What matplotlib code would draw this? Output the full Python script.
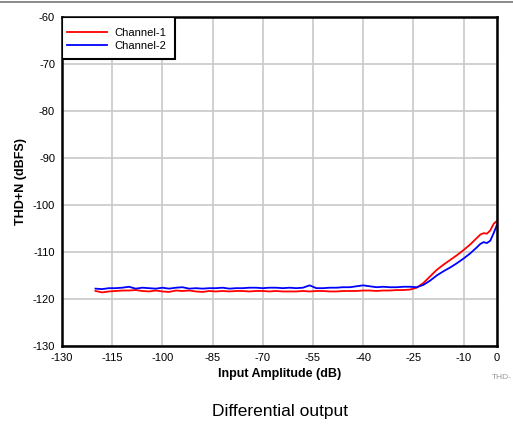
import matplotlib.pyplot as plt
from matplotlib.lines import Line2D
from matplotlib.patches import Rectangle

plt.rcParams['font.family'] = ['Liberation Sans', 'DejaVu Sans']
plt.rcParams['axes.unicode_minus'] = False

# input amplitude (dB)
amplitude = [-120, -118, -116, -114, -112, -110, -108, -106, -104, -102,
             -100, -98, -96, -94, -92, -90, -88, -86, -84, -82,
             -80, -78, -76, -74, -72, -70, -68, -66, -64, -62,
             -60, -58, -56, -54, -52, -50, -48, -46, -44, -42,
             -40, -38, -36, -34, -32, -30, -28, -26, -24, -22,
             -20, -18, -16, -14, -12, -10, -8, -6, -5, -4,
             -3, -2, -1, 0]
ch1 = [-118.3, -118.6, -118.4, -118.3, -118.2, -118.2, -118.1, -118.3, -118.4, -118.2,
       -118.4, -118.5, -118.2, -118.3, -118.2, -118.4, -118.5, -118.3, -118.4, -118.3,
       -118.4, -118.3, -118.3, -118.4, -118.3, -118.3, -118.4, -118.3, -118.4, -118.4,
       -118.4, -118.3, -118.4, -118.3, -118.3, -118.4, -118.4, -118.3, -118.3, -118.3,
       -118.2, -118.2, -118.3, -118.2, -118.2, -118.1, -118.1, -118.0, -117.6, -116.6,
       -115.2, -113.8, -112.7, -111.7, -110.7, -109.6, -108.4, -107.0, -106.3, -106.0,
       -106.1, -105.4, -104.0, -103.4]
ch2 = [-117.8, -117.9, -117.7, -117.7, -117.6, -117.4, -117.8, -117.6, -117.7, -117.8,
       -117.6, -117.8, -117.6, -117.5, -117.8, -117.7, -117.8, -117.7, -117.7, -117.6,
       -117.8, -117.7, -117.7, -117.6, -117.6, -117.7, -117.6, -117.6, -117.7, -117.6,
       -117.7, -117.6, -117.1, -117.7, -117.7, -117.6, -117.6, -117.5, -117.5, -117.3,
       -117.1, -117.3, -117.5, -117.4, -117.5, -117.5, -117.4, -117.4, -117.5, -117.0,
       -116.1, -115.0, -114.1, -113.3, -112.4, -111.4, -110.3, -109.0, -108.3, -107.9,
       -108.1, -107.6, -106.0, -104.2]

xticks = [-130, -115, -100, -85, -70, -55, -40, -25, -10, 0]
yticks = list(range(-130, -59, 10))

fig = plt.figure(figsize=(5.13, 4.24), dpi=100)
ax = fig.add_axes([0.1209, 0.184, 0.8479, 0.776])

ax.plot(amplitude, ch1, color='#ff0000', lw=1.3, label='Channel-1')
ax.plot(amplitude, ch2, color='#0000ff', lw=1.3, label='Channel-2')

ax.set_xlim(-130, 0)
ax.set_ylim(-130, -60)
ax.set_xticks(xticks)
ax.set_yticks(yticks)
ax.tick_params(labelsize=8, length=0, pad=5)
ax.grid(True, color='#c8c8c8', lw=1.2)
ax.set_axisbelow(True)
for s in ax.spines.values():
    s.set_linewidth(1.8)
    s.set_color('black')

ax.set_xlabel('Input Amplitude (dB)', fontsize=9, fontweight='bold', labelpad=4)
ax.set_ylabel('THD+N (dBFS)', fontsize=9, fontweight='bold', labelpad=4)

# legend box (drawn separately to get the padding of the original)
box = Rectangle((0, 1 - 42 / 329), 113 / 435, 42 / 329, transform=ax.transAxes,
                facecolor='white', edgecolor='black', lw=1.5, zorder=5)
ax.add_patch(box)
leg = ax.legend(loc='upper left', bbox_to_anchor=(0.002, 0.979), fontsize=8,
                frameon=False, borderaxespad=0, handlelength=3.6,
                handletextpad=0.6, borderpad=0.4, labelspacing=0.2)
leg.set_zorder(6)

fig.text(0.958, 0.105, 'THD-', fontsize=6, color='#999999', ha='left')
fig.text(0.545, 0.018, 'Differential output', fontsize=12.5, ha='center')
fig.add_artist(Line2D([0, 1], [0.995, 0.995], color='#777777', lw=1.2))

fig.savefig('out.png', dpi=100)
